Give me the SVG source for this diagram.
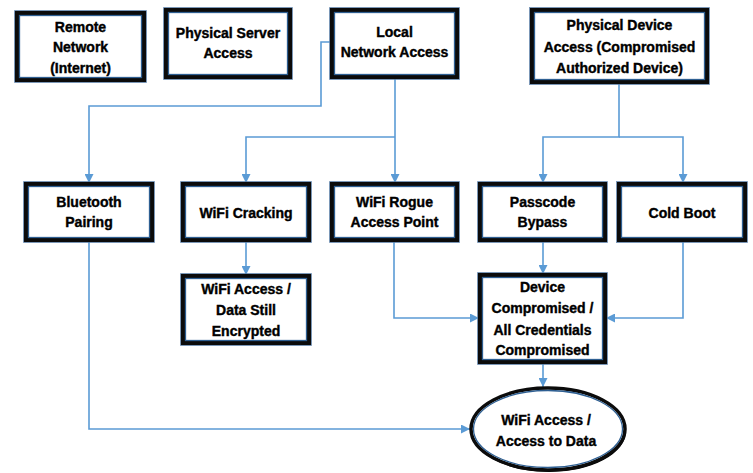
<svg xmlns="http://www.w3.org/2000/svg" width="753" height="473" viewBox="0 0 753 473">
<style>
.sh{fill:#000}
.bx{fill:#fff;stroke:#0b0b0b;stroke-width:4}
.in{fill:none;stroke:#2e5f92;stroke-width:1.3}
.ol{fill:none;stroke:#5a7ea6;stroke-width:0.8}
.t{font-family:"Liberation Sans",Arial,sans-serif;font-weight:bold;font-size:14px;fill:#000;stroke:#000;stroke-width:0.4;text-anchor:middle}
.c{fill:none;stroke:#5b9bd5;stroke-width:1.6}
</style>
<defs>
<marker id="ah" viewBox="0 0 10 10" refX="10" refY="5" markerWidth="5.5" markerHeight="5.5" orient="auto" markerUnits="userSpaceOnUse" >
<path d="M0,0 L10,5 L0,10 z" fill="#5b9bd5"/>
</marker>
<marker id="a" viewBox="0 0 10 10" refX="10" refY="5" markerWidth="9" markerHeight="9" orient="auto" markerUnits="userSpaceOnUse">
<path d="M0,0 L10,5 L0,10 z" fill="#5b9bd5"/>
</marker>
</defs>
<rect width="753" height="473" fill="#fff"/>

<g id="connectors">
<path class="c" d="M332,42 H321 V106 H89 V183" marker-end="url(#a)"/>
<path class="c" d="M395,78 V183" marker-end="url(#a)"/>
<path class="c" d="M395,137 H246 V183" marker-end="url(#a)"/>
<path class="c" d="M619,83 V137 H543 V183" marker-end="url(#a)"/>
<path class="c" d="M619,137 H683 V183" marker-end="url(#a)"/>
<path class="c" d="M246,241 V275" marker-end="url(#a)"/>
<path class="c" d="M543,241 V274" marker-end="url(#a)"/>
<path class="c" d="M394,241 V318 H479" marker-end="url(#a)"/>
<path class="c" d="M683,241 V318 H606" marker-end="url(#a)"/>
<path class="c" d="M543,363 V387" marker-end="url(#a)"/>
<path class="c" d="M89,241 V429 H470" marker-end="url(#a)"/>
</g>

<g id="remote">
<rect class="sh" x="18" y="15" width="127" height="67"/>
<rect class="bx" x="17" y="13" width="127" height="67"/>
<rect class="in" x="19.5" y="15.5" width="122" height="62"/>
<rect class="ol" x="14.6" y="10.6" width="131.8" height="71.8"/>
<text class="t" x="80.5" y="32">Remote</text>
<text class="t" x="80.5" y="52">Network</text>
<text class="t" x="80.5" y="73">(Internet)</text>
</g>

<g id="server">
<rect class="sh" x="167" y="12" width="124" height="67"/>
<rect class="bx" x="166" y="10" width="124" height="67"/>
<rect class="in" x="168.5" y="12.5" width="119" height="62"/>
<rect class="ol" x="163.6" y="7.6" width="128.8" height="71.8"/>
<text class="t" x="228" y="38">Physical Server</text>
<text class="t" x="228" y="58">Access</text>
</g>

<g id="local">
<rect class="sh" x="333" y="12" width="125" height="67"/>
<rect class="bx" x="332" y="10" width="125" height="67"/>
<rect class="in" x="334.5" y="12.5" width="120" height="62"/>
<rect class="ol" x="329.6" y="7.6" width="129.8" height="71.8"/>
<text class="t" x="394.5" y="37">Local</text>
<text class="t" x="394.5" y="57">Network Access</text>
</g>

<g id="device">
<rect class="sh" x="533" y="12" width="175" height="72"/>
<rect class="bx" x="532" y="10" width="175" height="72"/>
<rect class="in" x="534.5" y="12.5" width="170" height="67"/>
<rect class="ol" x="529.6" y="7.6" width="179.8" height="76.8"/>
<text class="t" x="619.5" y="30">Physical Device</text>
<text class="t" x="619.5" y="52">Access (Compromised</text>
<text class="t" x="619.5" y="73">Authorized Device)</text>
</g>

<g id="bluetooth">
<rect class="sh" x="27" y="186" width="126" height="56"/>
<rect class="bx" x="26" y="184" width="126" height="56"/>
<rect class="in" x="28.5" y="186.5" width="121" height="51"/>
<rect class="ol" x="23.6" y="181.6" width="130.8" height="60.8"/>
<text class="t" x="89" y="207">Bluetooth</text>
<text class="t" x="89" y="227">Pairing</text>
</g>

<g id="cracking">
<rect class="sh" x="184" y="186" width="126" height="56"/>
<rect class="bx" x="183" y="184" width="126" height="56"/>
<rect class="in" x="185.5" y="186.5" width="121" height="51"/>
<rect class="ol" x="180.6" y="181.6" width="130.8" height="60.8"/>
<text class="t" x="246" y="218">WiFi Cracking</text>
</g>

<g id="rogue">
<rect class="sh" x="333" y="186" width="125" height="56"/>
<rect class="bx" x="332" y="184" width="125" height="56"/>
<rect class="in" x="334.5" y="186.5" width="120" height="51"/>
<rect class="ol" x="329.6" y="181.6" width="129.8" height="60.8"/>
<text class="t" x="394.5" y="207">WiFi Rogue</text>
<text class="t" x="394.5" y="227">Access Point</text>
</g>

<g id="passcode">
<rect class="sh" x="481" y="186" width="125" height="56"/>
<rect class="bx" x="480" y="184" width="125" height="56"/>
<rect class="in" x="482.5" y="186.5" width="120" height="51"/>
<rect class="ol" x="477.6" y="181.6" width="129.8" height="60.8"/>
<text class="t" x="542.5" y="207">Passcode</text>
<text class="t" x="542.5" y="227">Bypass</text>
</g>

<g id="coldboot">
<rect class="sh" x="620" y="186" width="126" height="56"/>
<rect class="bx" x="619" y="184" width="126" height="56"/>
<rect class="in" x="621.5" y="186.5" width="121" height="51"/>
<rect class="ol" x="616.6" y="181.6" width="130.8" height="60.8"/>
<text class="t" x="682" y="218">Cold Boot</text>
</g>

<g id="wifidata">
<rect class="sh" x="184" y="278" width="126" height="67"/>
<rect class="bx" x="183" y="276" width="126" height="67"/>
<rect class="in" x="185.5" y="278.5" width="121" height="62"/>
<rect class="ol" x="180.6" y="273.6" width="130.8" height="71.8"/>
<text class="t" x="246" y="294">WiFi Access /</text>
<text class="t" x="246" y="315">Data Still</text>
<text class="t" x="246" y="336">Encrypted</text>
</g>

<g id="compromised">
<rect class="sh" x="481" y="277" width="125" height="87"/>
<rect class="bx" x="480" y="275" width="125" height="87"/>
<rect class="in" x="482.5" y="277.5" width="120" height="82"/>
<rect class="ol" x="477.6" y="272.6" width="129.8" height="91.8"/>
<text class="t" x="542.5" y="292">Device</text>
<text class="t" x="542.5" y="313">Compromised /</text>
<text class="t" x="542.5" y="335">All Credentials</text>
<text class="t" x="542.5" y="355">Compromised</text>
</g>

<g id="wifiaccess">
<ellipse cx="549" cy="431" rx="77" ry="41" fill="#000"/>
<ellipse cx="548" cy="429" rx="77" ry="41" fill="#fff" stroke="#0b0b0b" stroke-width="3.5"/>
<ellipse cx="548" cy="429" rx="74.5" ry="38.5" fill="none" stroke="#2e5f92" stroke-width="1.3"/>
<text class="t" x="546" y="425">WiFi Access /</text>
<text class="t" x="546" y="446">Access to Data</text>
</g>
</svg>
